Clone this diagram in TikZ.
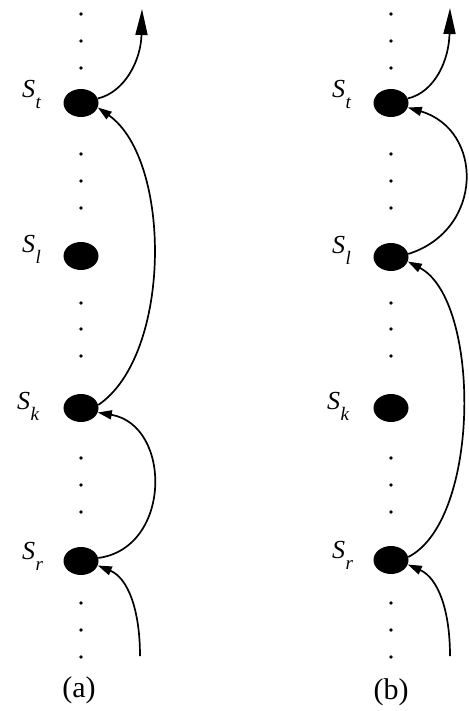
\documentclass[tikz,border=0pt]{standalone}
\usepackage{fontspec}
\setmainfont{Liberation Serif}
\usetikzlibrary{arrows.meta,shapes.geometric}
\newcommand\SLab[1]{\textit{S}\kern0.5pt\raisebox{-11pt}{\fontsize{19pt}{19pt}\selectfont\textit{#1}}}
\begin{document}
\begin{tikzpicture}[x=1pt,y=-1pt,
  st/.style={ellipse,fill=black,minimum width=35pt,minimum height=28pt,inner sep=0pt},
  lab/.style={anchor=base west,inner sep=0pt,font=\fontsize{26pt}{26pt}\selectfont},
  captext/.style={inner sep=0pt,font=\fontsize{30pt}{30pt}\selectfont},
  arr/.style={line width=1.7pt,-{Triangle[length=14pt,width=9pt]}},
  arrtop/.style={line width=1.7pt,-{Triangle[length=26pt,width=12pt]}},
  dotm/.style={fill=black}]
\useasboundingbox (0,0) rectangle (468,711);
% dots
\foreach \cx in {81,391}{
  \foreach \yy in {14,41,68,154,181,208,303,329,356,458,485,512,603,630,657}{
    \fill[dotm] (\cx,\yy) circle (1.8pt);
  }
}
% ---------------- (a)
\node[st] (aT) at (81,103) {};
\node[st] (aL) at (81,256) {};
\node[st] (aK) at (81,408) {};
\node[st] (aR) at (81,561) {};
\node[lab] (aTl) at ([xshift=-59pt,yshift=5pt]aT.center) {\SLab{t}};
\node[lab] (aLl) at ([xshift=-59pt,yshift=4pt]aL.center) {\SLab{l}};
\node[lab] (aKl) at ([xshift=-64pt,yshift=-1pt]aK.center) {\SLab{k}};
\node[lab] (aRl) at ([xshift=-59pt,yshift=2pt]aR.center) {\SLab{r}};
\coordinate (aTop) at (142,9);
\coordinate (aBot) at (140,656);
\draw[arrtop] (aT.15) .. controls (125,92) and (141,60) .. (aTop);
\draw[arr] (aK.10) .. controls (172,355) and (172,160) .. (aT.-15);
\draw[arr] (aR.10) .. controls (172,548) and (172,425) .. (aK.-15);
\draw[arr] (aBot) .. controls (140,610) and (128,578) .. (aR.-15);
\node[captext] (capa) at (79,690) {(a)};
% ---------------- (b)
\node[st] (bT) at (391,103) {};
\node[st] (bL) at (391,257) {};
\node[st] (bK) at (391,408) {};
\node[st] (bR) at (391,560) {};
\node[lab] (bTl) at ([xshift=-59pt,yshift=5pt]bT.center) {\SLab{t}};
\node[lab] (bLl) at ([xshift=-59pt,yshift=4pt]bL.center) {\SLab{l}};
\node[lab] (bKl) at ([xshift=-64pt,yshift=-1pt]bK.center) {\SLab{k}};
\node[lab] (bRl) at ([xshift=-59pt,yshift=2pt]bR.center) {\SLab{r}};
\coordinate (bTop) at (450,8);
\coordinate (bBot) at (450,656);
\draw[arrtop] (bT.15) .. controls (435,92) and (449,60) .. (bTop);
\draw[arr] (bL.10) .. controls (484,230) and (484,130) .. (bT.-15);
\draw[arr] (bR.10) .. controls (481,520) and (481,300) .. (bL.-15);
\draw[arr] (bBot) .. controls (450,610) and (438,578) .. (bR.-15);
\node[captext] (capb) at (391,692) {(b)};
\end{tikzpicture}
\end{document}
